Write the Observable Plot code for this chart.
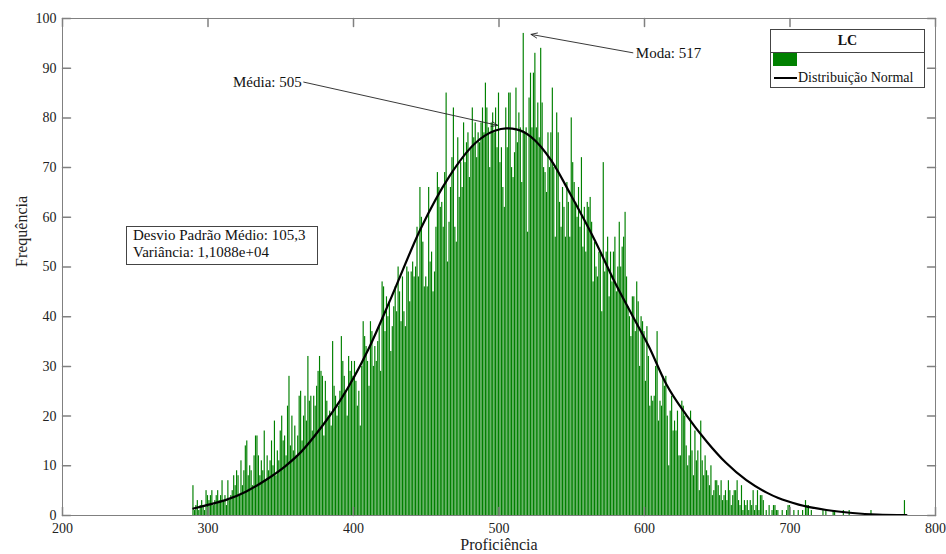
<!DOCTYPE html>
<html><head><meta charset="utf-8">
<script src="https://cdn.jsdelivr.net/npm/d3@7"></script>
<script src="https://cdn.jsdelivr.net/npm/@observablehq/plot@0.6"></script>
<style>
body{margin:0;background:#fff;}
#wrap{position:relative;width:946px;height:554px;font-family:"Liberation Serif","Times New Roman",serif;color:#111;}
#wrap svg{position:absolute;left:0;top:0;}
.box{position:absolute;background:#fff;border:1px solid #444;box-sizing:border-box;}
#legend{left:770px;top:29px;width:155px;height:59px;font-size:14px;}
#legend .title{position:absolute;left:0;top:0;width:100%;height:22px;line-height:22px;text-align:center;font-weight:bold;border-bottom:1px solid #444;}
#legend .patch{position:absolute;left:2px;top:23px;width:24px;height:13px;background:#008000;}
#legend .line{position:absolute;left:3px;top:47px;width:23px;height:2px;background:#000;}
#legend .lab{position:absolute;left:27px;top:40px;line-height:16px;white-space:nowrap;}
#stats{left:126px;top:226px;width:192px;height:39px;font-size:15px;line-height:17px;padding:0 0 0 6px;white-space:nowrap;}
</style></head>
<body><div id="wrap"></div>
<script>
// Histogram: one bin per proficiency point, starting at 290
const binStart = 290;
const counts = [
  6,1,2,3,1,2,3,2,1,5,
  4,3,4,5,2,3,4,5,3,4,
  7,3,4,2,7,3,4,5,8,6,
  9,8,4,11,6,9,14,15,8,10,
  9,6,12,16,16,12,8,11,9,17,
  7,12,9,11,15,10,19,8,13,11,
  17,20,15,16,12,22,28,14,20,13,
  18,12,16,24,25,15,20,24,19,32,
  23,24,17,24,22,26,29,32,29,28,
  16,27,23,20,21,18,35,26,24,20,
  22,25,36,31,28,25,20,32,29,31,
  28,31,27,22,25,18,30,39,36,34,
  31,26,39,37,30,34,31,35,38,29,
  47,46,37,44,40,43,33,38,42,46,
  41,50,45,39,48,41,38,50,49,43,
  49,51,48,50,58,48,66,60,55,46,
  48,46,66,51,53,45,49,58,69,66,
  62,63,58,69,85,51,59,66,72,82,
  58,55,76,64,71,66,79,71,75,77,
  68,74,82,76,79,72,77,75,79,82,
  77,87,82,78,70,79,81,77,82,74,
  85,71,74,66,62,82,74,85,85,70,
  68,73,86,75,81,78,67,97,77,78,
  57,84,89,78,89,93,78,83,76,94,
  83,70,69,65,77,70,77,86,70,56,
  81,77,63,58,66,62,56,67,63,56,
  80,71,67,63,60,66,58,72,54,62,
  53,63,62,64,59,47,55,50,48,53,
  53,41,71,49,53,56,44,53,47,53,
  56,45,50,59,50,54,56,61,48,42,
  40,36,44,44,37,47,43,30,40,39,
  37,27,38,32,22,24,23,24,30,37,
  19,23,22,28,26,28,20,10,21,24,
  17,19,17,21,12,12,23,22,20,14,
  10,12,21,13,8,17,11,13,5,19,
  11,8,12,9,8,6,10,4,5,7,
  7,6,4,7,3,4,5,3,7,5,
  2,4,5,5,7,3,2,6,1,3,
  2,3,1,3,2,5,1,2,5,1,
  4,4,3,0,1,0,2,0,1,2,
  2,1,1,0,0,1,0,0,1,2,
  2,0,0,1,0,0,1,0,0,1,
  0,3,2,2,0,1,0,0,0,0,
  0,0,0,1,0,1,0,0,0,0,
  1,1,0,0,0,0,0,1,0,0,
  0,1,0,0,0,0,0,0,0,0,
  0,0,0,0,0,0,1,0,0,0,
  0,0,0,0,0,0,0,0,0,0,
  0,0,0,0,0,0,0,0,0,3
];

// Normal curve
const curveX = [290,298,312,326,340,353,364,378,391,410,426,446,466,484,497,505,512,522,536,549,566,579,591,603,615,629,643,656,670,684,692,706,725,743,760,780];
const curveY = [1.4,2.0,3.1,4.8,7.2,9.9,12.8,17.8,23.2,33.3,43.9,57.6,68.3,75.0,77.4,77.9,77.7,76.2,71.4,64.7,55.3,47.3,40.6,34,26.4,20.1,14.8,10.6,7.1,4.6,3.5,2.2,1.1,0.5,0.2,0.1];

const xTicks = [200,300,400,500,600,700,800];
const yTicks = [0,10,20,30,40,50,60,70,80,90,100];

// Annotations: label, arrow tail (x,y), arrow tip (x,y)
const annLabels = ["Média: 505", "Moda: 517"];
const annTailX = [365.8, 592];
const annTailY = [87.2, 93.1];
const annTipX = [499.1, 522];
const annTipY = [78.5, 96.8];

const bars = counts.map((c, i) => ({x: binStart + i, count: c}));
const curve = curveX.map((x, i) => ({x, y: curveY[i]}));
const ann = annLabels.map((label, i) => ({label, x1: annTailX[i], y1: annTailY[i], x2: annTipX[i], y2: annTipY[i]}));

const tickShape = {draw(ctx, l) { ctx.moveTo(0, 0); ctx.lineTo(0, -l); }};
const axisGray = "#808080";

const chart = Plot.plot({
  width: 946, height: 554,
  marginLeft: 62, marginRight: 11, marginTop: 18, marginBottom: 39,
  x: {domain: [200, 800]},
  y: {domain: [0, 100]},
  style: {fontFamily: "'Liberation Serif','Times New Roman',serif", fontSize: "14px", color: "#222", background: "#fff"},
  marks: [
    Plot.rectY(bars, {x1: d => d.x - 0.4, x2: d => d.x + 0.4, y1: 0, y2: "count", fill: "#008000"}),
    Plot.line(curve, {x: "x", y: "y", stroke: "#000", strokeWidth: 2.2, curve: "monotone-x"}),
    Plot.frame({stroke: axisGray}),
    Plot.vector(xTicks, {x: d => d, frameAnchor: "bottom", length: 8, rotate: 0, anchor: "start", shape: tickShape, stroke: axisGray}),
    Plot.vector(xTicks, {x: d => d, frameAnchor: "top", length: 8, rotate: 180, anchor: "start", shape: tickShape, stroke: axisGray}),
    Plot.vector(yTicks, {y: d => d, frameAnchor: "left", length: 8, rotate: 90, anchor: "start", shape: tickShape, stroke: axisGray}),
    Plot.vector(yTicks, {y: d => d, frameAnchor: "right", length: 8, rotate: -90, anchor: "start", shape: tickShape, stroke: axisGray}),
    Plot.axisX(xTicks, {tickSize: 0, tickPadding: 8, label: null, fill: "#222"}),
    Plot.axisY(yTicks, {tickSize: 0, tickPadding: 6, label: null, fill: "#222"}),
    Plot.text(["Proficiência"], {frameAnchor: "bottom", dy: 34, fontSize: 16, fill: "#222"}),
    Plot.text(["Frequência"], {frameAnchor: "left", dx: -41, rotate: -90, fontSize: 16, fill: "#222"}),
    Plot.arrow(ann, {x1: "x1", y1: "y1", x2: "x2", y2: "y2", stroke: "#222", strokeWidth: 0.9, headLength: 11, headAngle: 45}),
    Plot.text(ann.slice(0, 1), {x: "x1", y: "y1", text: "label", textAnchor: "end", dx: -2, fontSize: 15, fill: "#111"}),
    Plot.text(ann.slice(1), {x: "x1", y: "y1", text: "label", textAnchor: "start", dx: 3, fontSize: 15, fill: "#111"})
  ]
});

const wrap = document.getElementById("wrap");
wrap.appendChild(chart);

const legend = document.createElement("div");
legend.className = "box";
legend.id = "legend";
legend.innerHTML = '<div class="title">LC</div><div class="patch"></div><div class="line"></div><div class="lab">Distribuição Normal</div>';
wrap.appendChild(legend);

const stats = document.createElement("div");
stats.className = "box";
stats.id = "stats";
stats.innerHTML = "Desvio Padrão Médio: 105,3<br>Variância: 1,1088e+04";
wrap.appendChild(stats);
</script>
</body></html>
